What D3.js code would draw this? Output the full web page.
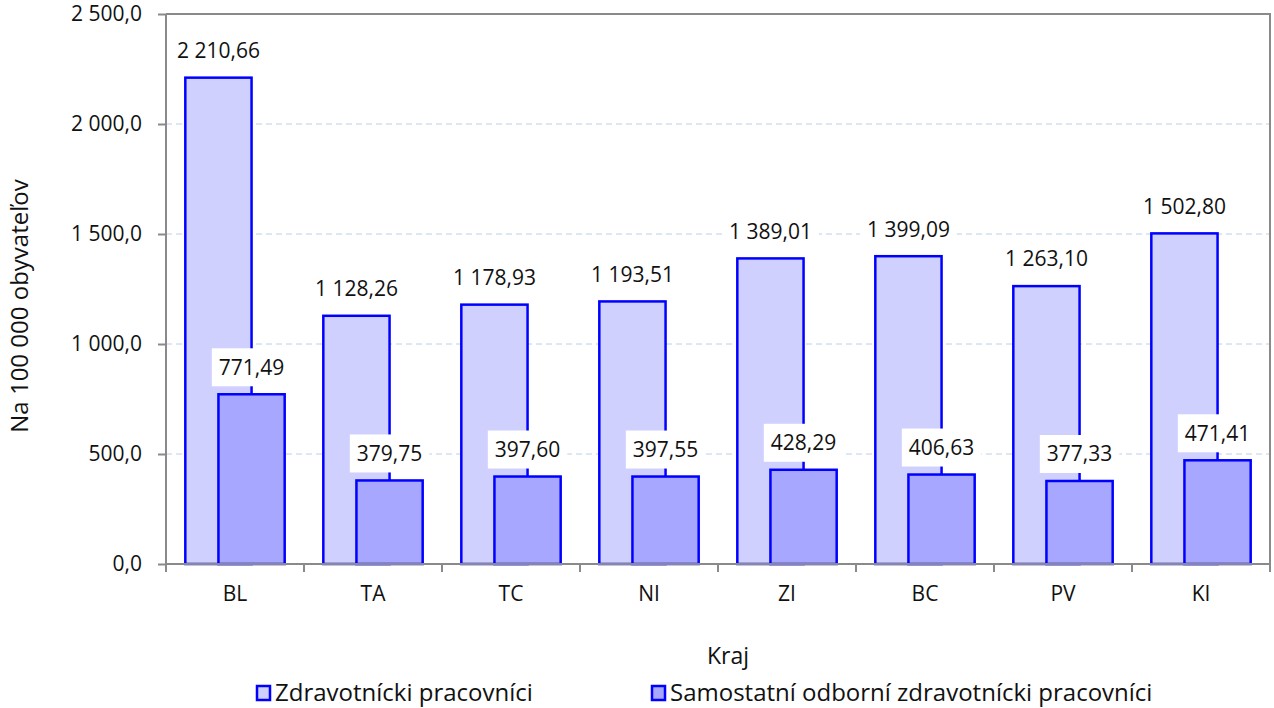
<!DOCTYPE html>
<html>
<head>
  <meta charset="utf-8">
  <title>Zdravotnícki pracovníci podľa krajov</title>
  <style>
    body { margin: 0; background: #fff; }
    svg text { font-family: "Open Sans", sans-serif; fill: #111; }
  </style>
  <script src="https://d3js.org/d3.v7.min.js"></script>
</head>
<body>
<svg width="1274" height="708"></svg>
<script>
// data
var kraje = ["BL", "TA", "TC", "NI", "ZI", "BC", "PV", "KI"];
var zdravotnici = [2210.66, 1128.26, 1178.93, 1193.51, 1389.01, 1399.09, 1263.10, 1502.80];
var samostatni = [771.49, 379.75, 397.60, 397.55, 428.29, 406.63, 377.33, 471.41];
var yTicks = [0, 500, 1000, 1500, 2000, 2500];
var serieNames = ["Zdravotnícki pracovníci", "Samostatní odborní zdravotnícki pracovníci"];
var serieColors = ["#d0d0ff", "#a7a7ff"];

var svg = d3.select("svg");
var pLeft = 166, pRight = 1270, pTop = 14, pBottom = 564;

var x = d3.scaleBand().domain(kraje).range([pLeft, pRight]).padding(0);
var y = d3.scaleLinear().domain([0, 2500]).range([pBottom, pTop]);

// format like "2 210,66"
function fmt(v, dec) {
  var s = v.toFixed(dec).split(".");
  var int = s[0].replace(/\B(?=(\d{3})+(?!\d))/g, " ");
  return int + "," + s[1];
}

// gridlines
svg.append("g")
  .selectAll("line")
  .data(yTicks.filter(function(d) { return d > 0 && d < 2500; }))
  .enter().append("line")
  .attr("x1", pLeft).attr("x2", pRight)
  .attr("y1", function(d) { return y(d); })
  .attr("y2", function(d) { return y(d); })
  .attr("stroke", "#bcd0ea")
  .attr("stroke-width", 1)
  .attr("stroke-dasharray", "6,4");

// frame top/right
svg.append("path")
  .attr("d", "M" + pLeft + "," + pTop + "H" + pRight + "V" + pBottom)
  .attr("fill", "none")
  .attr("stroke", "#8a8a8a")
  .attr("stroke-width", 2);

var bw = x.bandwidth() * 0.48;
var series = [zdravotnici, samostatni];

series.forEach(function(vals, si) {
  svg.append("g")
    .selectAll("rect")
    .data(vals)
    .enter().append("rect")
    .attr("x", function(d, i) { return x(kraje[i]) + x.bandwidth() / 2 - bw * (0.75 - si * 0.5); })
    .attr("y", function(d) { return y(d); })
    .attr("width", bw)
    .attr("height", function(d) { return pBottom - y(d); })
    .attr("fill", serieColors[si])
    .attr("stroke", "#0000ff")
    .attr("stroke-width", 2.5);
});

// axes
var yAxis = svg.append("g")
  .attr("transform", "translate(" + pLeft + ",0)")
  .call(d3.axisLeft(y).tickValues(yTicks).tickSize(8).tickPadding(16)
    .tickFormat(function(d) { return fmt(d, 1); }));
var xAxis = svg.append("g")
  .attr("transform", "translate(0," + pBottom + ")")
  .call(d3.axisBottom(x).tickSize(0).tickPadding(22));

[yAxis, xAxis].forEach(function(a) {
  a.select(".domain").attr("stroke", "#8a8a8a").attr("stroke-width", 2);
  a.selectAll(".tick line").attr("stroke", "#8a8a8a").attr("stroke-width", 2);
  a.selectAll("text").attr("font-size", "21px").attr("fill", "#111")
    .style("font-family", "'Open Sans', sans-serif");
});
yAxis.select(".domain").attr("d", "M0," + pTop + "V" + pBottom);
xAxis.select(".domain").attr("d", "M" + pLeft + ",0H" + pRight);

// x category separator ticks
svg.append("g")
  .selectAll("line")
  .data(d3.range(kraje.length + 1))
  .enter().append("line")
  .attr("x1", function(i) { return pLeft + i * x.step(); })
  .attr("x2", function(i) { return pLeft + i * x.step(); })
  .attr("y1", pBottom).attr("y2", pBottom + 8)
  .attr("stroke", "#8a8a8a").attr("stroke-width", 2);

// data labels with white boxes
series.forEach(function(vals, si) {
  var g = svg.append("g").selectAll("g")
    .data(vals)
    .enter().append("g")
    .attr("transform", function(d, i) {
      var cx = x(kraje[i]) + x.bandwidth() / 2 - bw * (0.25 - si * 0.5);
      return "translate(" + cx + "," + (y(d) - 27) + ")";
    });
  g.append("rect")
    .attr("x", -44).attr("y", -19)
    .attr("width", 88).attr("height", 38)
    .attr("fill", "#fff");
  g.append("text")
    .attr("text-anchor", "middle")
    .attr("dy", "0.35em")
    .attr("font-size", "21px")
    .text(function(d) { return fmt(d, 2); })
    .each(function() {
      var w = this.getComputedTextLength();
      d3.select(this.parentNode).select("rect").attr("x", -w / 2 - 7).attr("width", w + 14);
    });
});

// axis titles
svg.append("text")
  .attr("x", 728).attr("y", 656)
  .attr("text-anchor", "middle")
  .attr("dy", "0.35em")
  .attr("font-size", "23px")
  .text("Kraj");

svg.append("text")
  .attr("transform", "translate(20,306) rotate(-90)")
  .attr("text-anchor", "middle")
  .attr("dy", "0.35em")
  .attr("font-size", "24px")
  .text("Na 100 000 obyvateľov");

// legend
var legendX = [256, 651];
serieNames.forEach(function(name, i) {
  var lg = svg.append("g").attr("transform", "translate(" + legendX[i] + ",685)");
  lg.append("rect")
    .attr("x", 1).attr("y", 1)
    .attr("width", 13).attr("height", 14)
    .attr("fill", serieColors[i])
    .attr("stroke", "#0000ff")
    .attr("stroke-width", 2.5);
  lg.append("text")
    .attr("x", 19).attr("y", 8)
    .attr("dy", "0.35em")
    .attr("font-size", "24px")
    .text(name);
});
</script>
</body>
</html>
